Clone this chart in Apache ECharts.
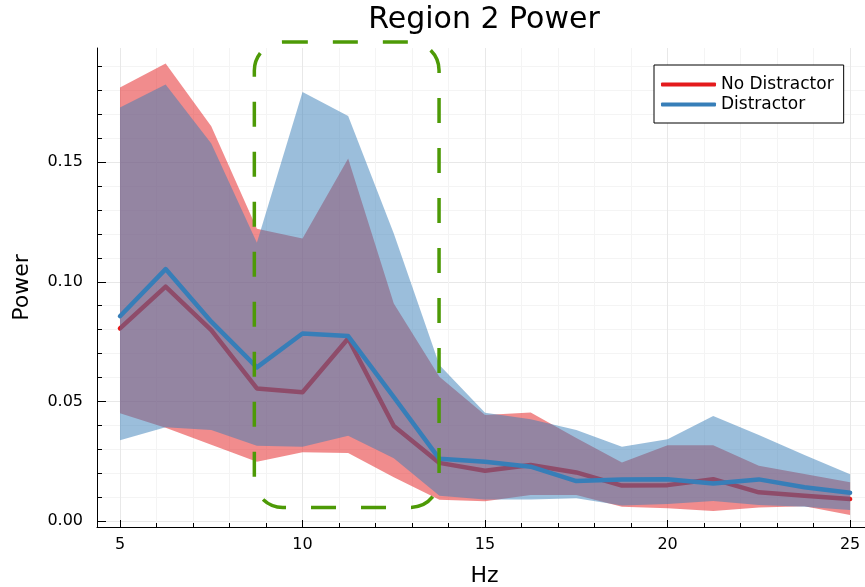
<!DOCTYPE html>
<html>
<head>
<meta charset="utf-8">
<script src="https://cdn.jsdelivr.net/npm/echarts@6/dist/echarts.min.js"></script>
<style>
html,body{margin:0;padding:0;background:#fff;}
#chart{width:865px;height:587px;}
</style>
</head>
<body>
<div id="chart"></div>
<script>
// ---- data ----
const hz = [5, 6.25, 7.5, 8.75, 10, 11.25, 12.5, 13.75, 15, 16.25, 17.5, 18.75, 20, 21.25, 22.5, 23.75, 25];

const noDistMean  = [0.0805, 0.0980, 0.0798, 0.0554, 0.0538, 0.0763, 0.0397, 0.0243, 0.0210, 0.0234, 0.0203, 0.0148, 0.0150, 0.0175, 0.0120, 0.0106, 0.0092];
const noDistLower = [0.0450, 0.0390, 0.0319, 0.0248, 0.0287, 0.0284, 0.0183, 0.0089, 0.0083, 0.0109, 0.0109, 0.0060, 0.0053, 0.0042, 0.0056, 0.0062, 0.0025];
const noDistUpper = [0.1812, 0.1912, 0.1650, 0.1222, 0.1181, 0.1515, 0.0909, 0.0603, 0.0443, 0.0454, 0.0347, 0.0245, 0.0317, 0.0317, 0.0231, 0.0196, 0.0162];

const distMean  = [0.0856, 0.1053, 0.0833, 0.0642, 0.0784, 0.0773, 0.0518, 0.0260, 0.0248, 0.0227, 0.0167, 0.0174, 0.0175, 0.0157, 0.0174, 0.0141, 0.0118];
const distLower = [0.0338, 0.0392, 0.0380, 0.0315, 0.0310, 0.0356, 0.0262, 0.0106, 0.0090, 0.0090, 0.0095, 0.0065, 0.0071, 0.0084, 0.0067, 0.0060, 0.0046];
const distUpper = [0.1728, 0.1824, 0.1578, 0.1163, 0.1793, 0.1693, 0.1202, 0.0652, 0.0452, 0.0425, 0.0380, 0.0310, 0.0342, 0.0439, 0.0359, 0.0276, 0.0195];

const xTicks = [5, 10, 15, 20, 25];
const yTicks = [0, 0.05, 0.10, 0.15];

// highlighted band (annotation box)
const boxHz = [8.68, 13.74];
const boxPower = [0.0057, 0.2002];

const seriesNames = ['No Distractor', 'Distractor'];
const titleText = 'Region 2 Power';

// ---- chart ----
const FONT = 'DejaVu Sans';
const RED = '#e41a1c', BLUE = '#377eb8';

function ribbon(lower, upper) {
  return hz.map((x, i) => [x, lower[i], upper[i]]);
}
function ribbonRender(fill) {
  return function (params, api) {
    if (params.dataIndexInside !== 0) return null;
    const n = params.dataInsideLength;
    const top = [], bot = [];
    for (let i = 0; i < n; i++) {
      top.push(api.coord([api.value(0, i), api.value(2, i)]));
      bot.push(api.coord([api.value(0, i), api.value(1, i)]));
    }
    return {
      type: 'polygon',
      shape: { points: top.concat(bot.reverse()) },
      style: { fill: fill, stroke: null }
    };
  };
}

const chart = echarts.init(document.getElementById('chart'), null, { renderer: 'canvas' });
chart.setOption({
  animation: false,
  backgroundColor: '#fff',
  textStyle: { fontFamily: FONT },
  title: {
    text: titleText,
    left: 484, top: 20, padding: 0,
    textAlign: 'center', textVerticalAlign: 'middle',
    textStyle: { fontFamily: FONT, fontSize: 30, fontWeight: 'normal', color: '#000' }
  },
  legend: {
    data: seriesNames,
    orient: 'vertical',
    left: 654, top: 65,
    padding: [11, 10, 10, 7],
    itemGap: 3,
    itemWidth: 55, itemHeight: 4,
    icon: 'roundRect',
    selectedMode: false,
    backgroundColor: '#fff',
    borderColor: '#000', borderWidth: 1,
    textStyle: { fontFamily: FONT, fontSize: 17, color: '#000' }
  },
  grid: { left: 97, top: 48, width: 775, height: 479, containLabel: false, outerBoundsMode: 'none' },
  xAxis: {
    type: 'value', min: 4.37, max: 25.6,
    minInterval: 5, maxInterval: 5, splitNumber: 4,
    name: 'Hz', nameLocation: 'middle', nameGap: 38,
    nameTextStyle: { fontFamily: FONT, fontSize: 22, color: '#000' },
    axisLine: { show: true, onZero: false, lineStyle: { color: '#000', width: 1 } },
    axisTick: { show: true, inside: true, length: 7, customValues: xTicks, lineStyle: { color: '#000', width: 1 } },
    minorTick: { show: true, splitNumber: 5, length: 4, lineStyle: { color: '#000', width: 1 } },
    axisLabel: { customValues: xTicks, fontFamily: FONT, fontSize: 16, color: '#000', margin: 10 },
    splitLine: { show: true, lineStyle: { color: '#e8e8e8', width: 1 } },
    minorSplitLine: { show: true, lineStyle: { color: '#f4f4f4', width: 1 } }
  },
  yAxis: {
    type: 'value', min: -0.0025, max: 0.1977,
    minInterval: 0.05, maxInterval: 0.05, splitNumber: 4,
    name: 'Power', nameLocation: 'middle', nameGap: 64,
    nameTextStyle: { fontFamily: FONT, fontSize: 22, color: '#000' },
    axisLine: { show: true, onZero: false, lineStyle: { color: '#000', width: 1 } },
    axisTick: { show: true, inside: true, length: 9, customValues: yTicks, lineStyle: { color: '#000', width: 1 } },
    minorTick: { show: true, splitNumber: 5, length: 5, lineStyle: { color: '#000', width: 1 } },
    axisLabel: {
      customValues: yTicks, fontFamily: FONT, fontSize: 16, color: '#000', margin: 14,
      formatter: v => v.toFixed(2)
    },
    splitLine: { show: true, lineStyle: { color: '#e8e8e8', width: 1 } },
    minorSplitLine: { show: true, lineStyle: { color: '#f4f4f4', width: 1 } }
  },
  series: [
    {
      type: 'custom', name: 'No Distractor ribbon', z: 2,
      data: ribbon(noDistLower, noDistUpper),
      encode: { x: 0, y: [1, 2] },
      renderItem: ribbonRender('rgba(228,26,28,0.5)'),
      silent: true
    },
    {
      type: 'line', name: seriesNames[0], z: 3,
      data: hz.map((x, i) => [x, noDistMean[i]]),
      symbol: 'none', showSymbol: false,
      lineStyle: { color: RED, width: 4.5, cap: 'round', join: 'round' },
      itemStyle: { color: RED }
    },
    {
      type: 'custom', name: 'Distractor ribbon', z: 4,
      data: ribbon(distLower, distUpper),
      encode: { x: 0, y: [1, 2] },
      renderItem: ribbonRender('rgba(55,126,184,0.5)'),
      silent: true
    },
    {
      type: 'line', name: seriesNames[1], z: 5,
      data: hz.map((x, i) => [x, distMean[i]]),
      symbol: 'none', showSymbol: false,
      lineStyle: { color: BLUE, width: 4.5, cap: 'round', join: 'round' },
      itemStyle: { color: BLUE }
    },
    {
      type: 'custom', name: 'highlight', z: 6, clip: false, silent: true,
      data: [[boxHz[0], boxPower[0], boxHz[1], boxPower[1]]],
      encode: { x: [0, 2], y: [1, 3] },
      renderItem: function (params, api) {
        const p0 = api.coord([api.value(0), api.value(3)]);
        const p1 = api.coord([api.value(2), api.value(1)]);
        return {
          type: 'rect',
          shape: { x: p0[0], y: p0[1], width: p1[0] - p0[0], height: p1[1] - p0[1], r: 28.5 },
          style: { fill: 'none', stroke: '#4d9a06', lineWidth: 3.5, lineDash: [25, 25] }
        };
      }
    }
  ]
});
</script>
</body>
</html>
